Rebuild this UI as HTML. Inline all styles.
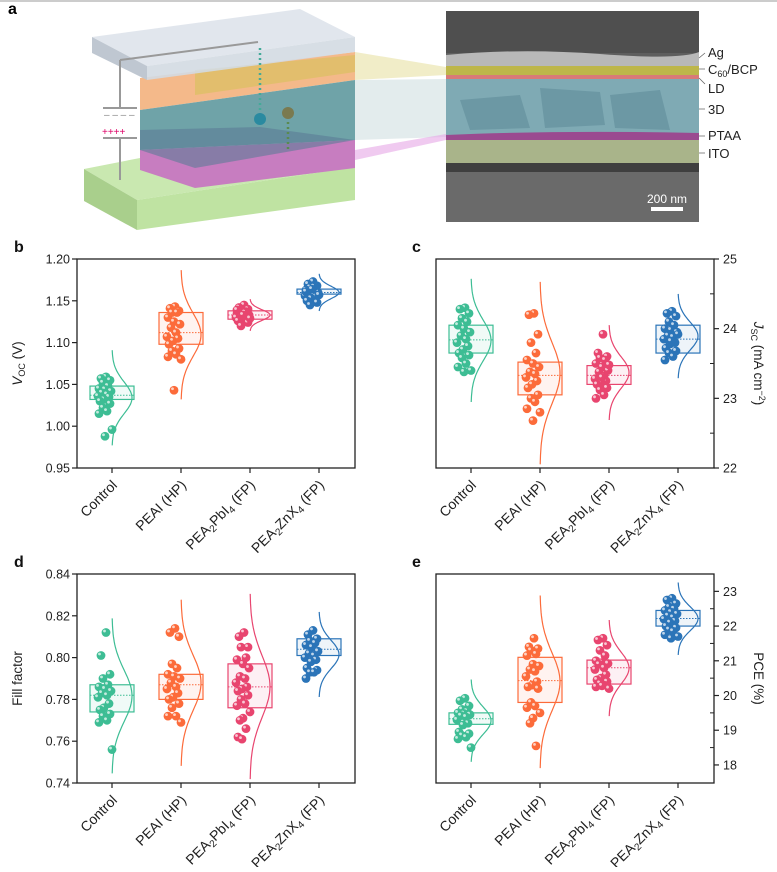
<!DOCTYPE html>
<html><head><meta charset="utf-8">
<style>
html,body{margin:0;padding:0;background:#fff;}
body{width:777px;height:867px;overflow:hidden;font-family:"Liberation Sans",Arial,sans-serif;}
svg text{font-family:"Liberation Sans",Arial,sans-serif;}
</style></head>
<body>
<svg id="fig" width="777" height="867" viewBox="0 0 777 867" xmlns="http://www.w3.org/2000/svg">
<defs>
<linearGradient id="fade" x1="0" x2="1" y1="0" y2="0">
<stop offset="0" stop-color="#fff" stop-opacity="0.9"/><stop offset="1" stop-color="#fff" stop-opacity="0"/>
</linearGradient>
</defs>
<line x1="0" y1="1" x2="777" y2="1" stroke="#bbb" stroke-width="1.5"/>
<g id="panel-a">
<text x="8" y="14" font-size="16" font-weight="bold">a</text>
<polygon points="84,169 137,200 355,167 355,150 140,158" fill="#c9e8b0"/>
<polygon points="137,200 355,167 355,200 137,230" fill="#bfe3a2"/>
<polygon points="84,169 137,200 137,230 84,201" fill="#a9cf8c"/>
<polygon points="140,78 355,52 355,80 140,110" fill="#f4b98a"/>
<polygon points="140,110 355,80 355,140 140,150" fill="#6fa3a8"/>
<polygon points="140,150 355,140 355,168 195,188 140,170" fill="#c77dc0"/>
<polygon points="140,130 260,127 355,140 195,168 140,150" fill="#5c7b96" opacity="0.6"/>
<polygon points="195,70 355,55 355,72 195,95" fill="#d5c25a" opacity="0.6"/>
<polygon points="92,37 300,9 355,37 147,66" fill="#dfe5ec" opacity="0.95"/>
<polygon points="92,37 147,66 147,80 92,53" fill="#bfc7d1"/>
<polygon points="147,66 355,37 355,52 147,80" fill="#d3dae2" opacity="0.9"/>
<path d="M120,60 V108 M120,138 V180 M120,60 L258,42" stroke="#999" stroke-width="2" fill="none"/>
<line x1="103" y1="108" x2="137" y2="108" stroke="#999" stroke-width="2"/>
<line x1="103" y1="138" x2="137" y2="138" stroke="#999" stroke-width="2"/>
<text x="104" y="118" font-size="10" fill="#888">– – – –</text>
<text x="102" y="135" font-size="10" fill="#d06">++++</text>
<line x1="260" y1="48" x2="260" y2="112" stroke="#4a9" stroke-width="2.5" stroke-dasharray="2,3"/>
<circle cx="260" cy="119" r="6" fill="#2a8aa0"/>
<line x1="288" y1="122" x2="288" y2="152" stroke="#5a8a50" stroke-width="2.5" stroke-dasharray="2,3"/>
<circle cx="288" cy="113" r="6" fill="#7a7a50"/>
<polygon points="355,37 446,50 446,180 355,200" fill="url(#fade)"/>
<polygon points="355,52 446,67 446,75 355,80" fill="#e6df9a" opacity="0.55"/>
<polygon points="355,80 446,79 446,137 355,140" fill="#c8d9dc" opacity="0.5"/>
<polygon points="355,150 446,134 446,140 355,160" fill="#e6a6e6" opacity="0.6"/>
<g>
<rect x="446" y="11" width="253" height="211" fill="#5e5e5e"/>
<rect x="446" y="11" width="253" height="42" fill="#4f4f4f"/>
<path d="M446,55 Q520,48 600,54 T699,52 L699,67 L446,67 Z" fill="#b8b8b8"/>
<rect x="446" y="66" width="253" height="9" fill="#bdb64a"/>
<rect x="446" y="75" width="253" height="4" fill="#d87a78"/>
<rect x="446" y="79" width="253" height="56" fill="#7faab4"/>
<path d="M460,100 L520,95 L530,128 L470,130 Z M540,88 L600,92 L605,125 L545,128 Z M610,95 L660,90 L670,130 L615,128 Z" fill="#6c98a4"/>
<path d="M446,135 Q560,130 699,133 L699,140 L446,142 Z" fill="#9a4a90"/>
<rect x="446" y="140" width="253" height="23" fill="#a9b48a"/>
<rect x="446" y="163" width="253" height="9" fill="#3f3f3f"/>
<rect x="446" y="172" width="253" height="50" fill="#6a6a6a"/>
<text x="667" y="203" font-size="12" fill="#fff" text-anchor="middle">200 nm</text>
<rect x="651" y="207" width="32" height="4" fill="#fff"/>
</g>
<g font-size="13" fill="#222">
<text x="708" y="57">Ag</text>
<text x="708" y="74">C<tspan font-size="9" dy="3">60</tspan><tspan dy="-3">/BCP</tspan></text>
<text x="708" y="93">LD</text>
<text x="708" y="114">3D</text>
<text x="708" y="140">PTAA</text>
<text x="708" y="158">ITO</text>
<path d="M699,58 L705,53 M699,69 L705,69 M699,78 L705,84 M699,109 L705,109 M699,136 L705,136 M699,153 L705,153" stroke="#666" stroke-width="0.8"/>
</g>
</g>
<g id="charts"></g>
</svg>
<script>
const categories = ["Control","PEAI (HP)","PEA2PbI4 (FP)","PEA2ZnX4 (FP)"];
const vocControl = [1.059,1.057,1.055,1.052,1.048,1.045,1.044,1.042,1.040,1.038,1.036,1.035,1.032,1.030,1.027,1.022,1.018,1.015,0.996,0.988];
const vocPEAI = [1.143,1.141,1.138,1.136,1.136,1.130,1.125,1.122,1.118,1.112,1.107,1.105,1.102,1.098,1.093,1.090,1.086,1.083,1.080,1.043];
const vocPbI = [1.145,1.142,1.140,1.138,1.137,1.135,1.134,1.133,1.132,1.131,1.130,1.128,1.127,1.126,1.124,1.120,1.136,1.139,1.129,1.133];
const vocZnX = [1.173,1.170,1.168,1.166,1.165,1.163,1.162,1.160,1.159,1.158,1.156,1.155,1.153,1.150,1.148,1.145,1.167,1.161,1.157,1.164];
const vocBoxes = [[1.032,1.048,1.037],[1.098,1.136,1.112],[1.128,1.138,1.133],[1.158,1.164,1.160]];
const vocTicks = [0.95,1.00,1.05,1.10,1.15,1.20];
const vocTickLabels = ["0.95","1.00","1.05","1.10","1.15","1.20"];

const jscControl = [24.30,24.28,24.22,24.15,24.10,24.05,24.00,23.95,23.90,23.85,23.80,23.75,23.70,23.65,23.62,23.58,23.50,23.45,23.40,23.38];
const jscPEAI = [24.22,24.20,23.92,23.80,23.65,23.55,23.50,23.45,23.38,23.35,23.30,23.25,23.20,23.15,23.05,23.00,22.95,22.85,22.80,22.68];
const jscPbI = [23.92,23.65,23.60,23.58,23.55,23.50,23.45,23.40,23.38,23.32,23.28,23.25,23.22,23.20,23.15,23.12,23.05,23.00,23.48,23.30];
const jscZnX = [24.25,24.22,24.18,24.10,24.05,24.00,23.98,23.95,23.90,23.88,23.85,23.80,23.78,23.72,23.68,23.65,23.60,23.55,23.92,23.82];
const jscBoxes = [[23.65,24.05,23.84],[23.05,23.52,23.33],[23.20,23.47,23.33],[23.65,24.05,23.85]];
const jscTicks = [22,23,24,25];
const jscTickLabels = ["22","23","24","25"];

const ffControl = [0.812,0.801,0.792,0.790,0.787,0.786,0.785,0.784,0.783,0.782,0.781,0.778,0.776,0.775,0.773,0.772,0.770,0.769,0.756];
const ffPEAI = [0.814,0.812,0.810,0.797,0.795,0.792,0.791,0.790,0.788,0.786,0.785,0.783,0.781,0.780,0.778,0.776,0.772,0.772,0.769];
const ffPbI = [0.812,0.810,0.805,0.805,0.800,0.799,0.797,0.795,0.791,0.790,0.788,0.786,0.785,0.784,0.782,0.780,0.778,0.777,0.774,0.771,0.770,0.766,0.762,0.761];
const ffZnX = [0.813,0.811,0.809,0.808,0.807,0.806,0.805,0.803,0.802,0.801,0.800,0.799,0.798,0.795,0.794,0.793,0.793,0.790];
const ffBoxes = [[0.774,0.787,0.782],[0.780,0.792,0.787],[0.776,0.797,0.786],[0.801,0.809,0.804]];
const ffTicks = [0.74,0.76,0.78,0.80,0.82,0.84];
const ffTickLabels = ["0.74","0.76","0.78","0.80","0.82","0.84"];

const pceControl = [19.92,19.85,19.70,19.60,19.55,19.50,19.48,19.45,19.42,19.38,19.30,19.20,19.15,18.95,18.90,18.85,18.80,18.75,18.50];
const pcePEAI = [21.65,21.40,21.35,21.30,21.20,21.15,20.90,20.85,20.75,20.70,20.55,20.40,20.30,20.25,20.20,19.80,19.70,19.65,19.50,19.35,19.20,18.55];
const pcePbI = [21.65,21.60,21.45,21.30,21.15,21.00,20.95,20.92,20.90,20.80,20.75,20.60,20.50,20.45,20.40,20.35,20.30,20.25,20.20,20.28];
const pceZnX = [22.80,22.75,22.65,22.55,22.50,22.45,22.40,22.35,22.30,22.25,22.20,22.15,22.10,22.00,21.95,21.90,21.85,21.75,21.70,21.65];
const pceBoxes = [[19.17,19.50,19.33],[19.80,21.10,20.43],[20.33,21.02,20.80],[22.00,22.45,22.22]];
const pceTicks = [18,19,20,21,22,23];
const pceTickLabels = ["18","19","20","21","22","23"];

const colors = ["#3dbd94","#fc6b3a","#e8456f","#2b74b8"];
const NS = "http://www.w3.org/2000/svg";
const root = document.getElementById("charts");
function mk(tag, attrs, parent){const e=document.createElementNS(NS,tag);for(const k in attrs)e.setAttribute(k,attrs[k]);(parent||root).appendChild(e);return e;}
const jit=[-3,-8,1,-6,-1,-10,-4,2,-7,-2,-11,0,-5,-9,1,-6,-2,-10,3,-4,-7,-1,-9,-5];

function chart(o){
  const g = mk("g",{});
  
  
  const {x0,x1,y0,y1,dmin,dmax} = o;
  const ys = v => y1 - (v-dmin)/(dmax-dmin)*(y1-y0);
  const xs = i => x0 + 35 + i*69;
  const frame = mk("rect",{x:x0,y:y0,width:x1-x0,height:y1-y0,fill:"none",stroke:"#222","stroke-width":1.3},g);
  
  
  const right = o.right;
  const ax = right ? x1 : x0;
  o.ticks.forEach((t,i)=>{
    const y = ys(t);
    mk("line",{x1:ax,x2:right?ax+5:ax-5,y1:y,y2:y,stroke:"#222","stroke-width":1.2},g);
    const tl = mk("text",{x:right?ax+9:ax-7,y:y+4.5,"font-size":12.5,"text-anchor":right?"start":"end",fill:"#222"},g);
    tl.textContent = o.tickLabels[i];
    
    
    if(right && i<o.ticks.length-1){const m=ys((t+o.ticks[i+1])/2);mk("line",{x1:ax,x2:ax-4,y1:m,y2:m,stroke:"#222","stroke-width":1},g);}
  });
  categories.forEach((c,i)=>{
    const cx = xs(i), col = colors[i];
    mk("line",{x1:cx,x2:cx,y1:y1,y2:y1+5,stroke:"#222","stroke-width":1.2},g);
    const lab = mk("text",{x:0,y:0,"font-size":14,"text-anchor":"end",fill:"#222",transform:`translate(${cx+6},${y1+18}) rotate(-45)`},g);
    
    
    if(c.startsWith("PEA2")){
      lab.appendChild(document.createTextNode("PEA"));
      const s1=mk("tspan",{"font-size":10,dy:3},lab); s1.textContent="2";
      const s2=mk("tspan",{dy:-3},lab); s2.textContent=c.includes("PbI")?"PbI":"ZnX";
      const s3=mk("tspan",{"font-size":10,dy:3},lab); s3.textContent="4";
      const s4=mk("tspan",{dy:-3},lab); s4.textContent=" (FP)";
    } else lab.textContent = c;
    const data = o.series[i], b = o.boxes[i];
    const grp = mk("g",{},g);
    
    
    const box = mk("rect",{x:cx-22,y:ys(b[1]),width:44,height:ys(b[0])-ys(b[1]),fill:col,"fill-opacity":0.08,stroke:col,"stroke-width":1.2},grp);
    
    
    mk("line",{x1:cx-22,x2:cx+22,y1:ys(b[2]),y2:ys(b[2]),stroke:col,"stroke-width":1,"stroke-dasharray":"1.5,1.5"},grp);
    const n=data.length, m=data.reduce((a,v)=>a+v,0)/n;
    const sd=Math.sqrt(data.reduce((a,v)=>a+(v-m)*(v-m),0)/(n-1));
    let d="";
    for(let k=0;k<=60;k++){const v=m-3*sd+6*sd*k/60;const z=(v-m)/sd;const px=cx+20*Math.exp(-z*z/2);d+=(k?"L":"M")+px.toFixed(1)+","+ys(v).toFixed(1);}
    const curve = mk("path",{d:d,fill:"none",stroke:col,"stroke-width":1.2},grp);
    
    
    data.forEach((v,k)=>{
      const p = mk("circle",{cx:cx-3+jit[k%jit.length],cy:ys(v),r:4.4,fill:col},grp);
      
      
      mk("circle",{cx:cx-4.5+jit[k%jit.length],cy:ys(v)-1.5,r:1.4,fill:"#fff","fill-opacity":0.7},grp);
    });
  });
  const lx = o.letterX, ly = y0-7;
  const L = mk("text",{x:lx,y:ly,"font-size":16,"font-weight":"bold",fill:"#111"},g);
  L.textContent = o.letter;
  
  
  const tx = right ? x1+40 : x0-55, ty=(y0+y1)/2;
  const T = mk("text",{x:0,y:0,"font-size":13.5,"text-anchor":"middle",fill:"#222",transform:`translate(${tx},${ty}) rotate(${right?90:-90})`},g);
  
  
  o.title(T);
}
function tsp(parent,txt,attrs){const t=mk("tspan",attrs||{},parent);t.textContent=txt;return t;}

chart({name:"panel-b-voc-chart",letter:"b",letterX:14,x0:77,x1:355,y0:259,y1:468,dmin:0.95,dmax:1.20,ticks:vocTicks,tickLabels:vocTickLabels,
  series:[vocControl,vocPEAI,vocPbI,vocZnX],boxes:vocBoxes,right:false,
  title:T=>{tsp(T,"V",{"font-style":"italic"});tsp(T,"OC",{"font-size":9,dy:3});tsp(T," (V)",{dy:-3});}});
chart({name:"panel-c-jsc-chart",letter:"c",letterX:412,x0:436,x1:714,y0:259,y1:468,dmin:22,dmax:25,ticks:jscTicks,tickLabels:jscTickLabels,
  series:[jscControl,jscPEAI,jscPbI,jscZnX],boxes:jscBoxes,right:true,
  title:T=>{tsp(T,"J",{"font-style":"italic"});tsp(T,"SC",{"font-size":9,dy:3});tsp(T," (mA cm",{dy:-3});tsp(T,"−2",{"font-size":9,dy:-5});tsp(T,")",{dy:5});}});
chart({name:"panel-d-ff-chart",letter:"d",letterX:14,x0:77,x1:355,y0:574,y1:783,dmin:0.74,dmax:0.84,ticks:ffTicks,tickLabels:ffTickLabels,
  series:[ffControl,ffPEAI,ffPbI,ffZnX],boxes:ffBoxes,right:false,
  title:T=>{tsp(T,"Fill factor");}});
chart({name:"panel-e-pce-chart",letter:"e",letterX:412,x0:436,x1:714,y0:574,y1:783,dmin:17.48,dmax:23.5,ticks:pceTicks,tickLabels:pceTickLabels,
  series:[pceControl,pcePEAI,pcePbI,pceZnX],boxes:pceBoxes,right:true,
  title:T=>{tsp(T,"PCE (%)");}});
</script>
</body></html>
